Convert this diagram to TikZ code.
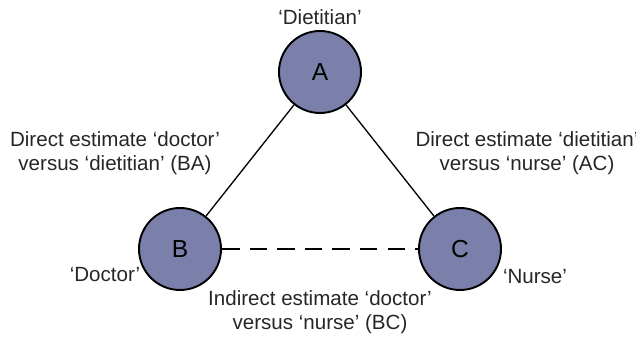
\documentclass[tikz,border=0pt]{standalone}
\usepackage{fontspec}
\setmainfont{Liberation Sans}
\usetikzlibrary{positioning}

\definecolor{nodeblue}{RGB}{122,128,170}

\tikzset{
  group/.style={circle, draw=black, line width=1.1pt, fill=nodeblue,
                minimum size=1.64cm, inner sep=0pt, font=\fontsize{14}{16}\selectfont},
  caption/.style={align=center, font=\fontsize{11.7}{13.6}\selectfont, text=black!85},
  direct/.style={line width=0.75pt},
  indirect/.style={line width=1.1pt, dash pattern=on 10pt off 5.7pt}
}

\begin{document}
\begin{tikzpicture}
      \useasboundingbox (0,0) rectangle (12.72,6.76);

      % Groups
      \node[group] (A) at (6.4, 5.32) {A};
      \node[group] (B) at (3.6, 1.78) {B};
      \node[group] (C) at (9.2, 1.78) {C};

      % Names
      \node[caption] (dietitian) at (6.4,  6.42) {‘Dietitian’};
      \node[caption] (doctor)    at (2.1,  1.26) {‘Doctor’};
      \node[caption] (nurse)     at (10.7, 1.22) {‘Nurse’};

      % Comparisons
      \draw[direct]   (A) -- (B);
      \draw[direct]   (A) -- (C);
      \draw[indirect] (B) -- (C);

      \node[caption] (BA) at (2.3,  3.7)  {Direct estimate ‘doctor’\\versus ‘dietitian’ (BA)};
      \node[caption] (AC) at (10.54, 3.7) {Direct estimate ‘dietitian’\\versus ‘nurse’ (AC)};
      \node[caption] (BC) at (6.4,  0.52) {Indirect estimate ‘doctor’\\versus ‘nurse’ (BC)};
\end{tikzpicture}
\end{document}
